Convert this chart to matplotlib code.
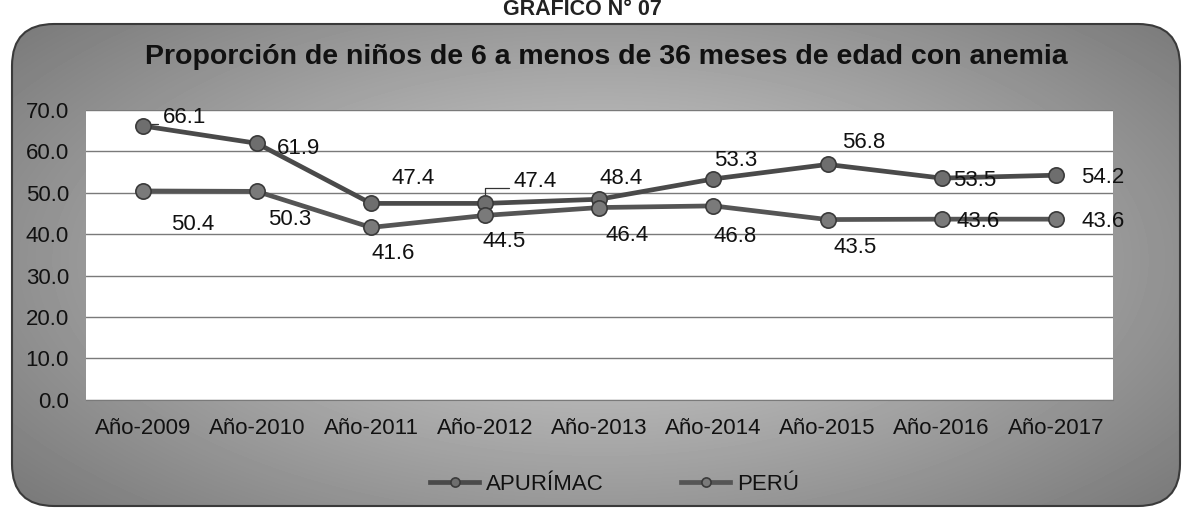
import numpy as np
import matplotlib
matplotlib.use("Agg")
import matplotlib.pyplot as plt
from matplotlib.patches import FancyBboxPatch

plt.rcParams["font.family"] = ["Liberation Sans", "DejaVu Sans"]

years = ["Año-2009", "Año-2010", "Año-2011", "Año-2012", "Año-2013",
         "Año-2014", "Año-2015", "Año-2016", "Año-2017"]
apurimac = [66.1, 61.9, 47.4, 47.4, 48.4, 53.3, 56.8, 53.5, 54.2]
peru = [50.4, 50.3, 41.6, 44.5, 46.4, 46.8, 43.5, 43.6, 43.6]
yticks = [0, 10, 20, 30, 40, 50, 60, 70]

# label offsets (points) for each data label
apu_off = [(30, 6), (30, -4), (30, 18), (36, 16), (16, 15), (16, 13), (26, 16), (24, -2), (34, -2)]
per_off = [(36, -24), (24, -20), (16, -19), (14, -19), (20, -20), (16, -22), (20, -20), (26, -2), (34, -2)]
FS = 16

fig = plt.figure(figsize=(11.89, 5.2), dpi=100)
fig.patch.set_facecolor("white")

# gray rounded panel with a soft gradient
bg = fig.add_axes([0, 0, 1, 1], zorder=0)
bg.set_xlim(0, 1189); bg.set_ylim(520, 0); bg.axis("off")
box = FancyBboxPatch((12, 24), 1168, 482, boxstyle="round,pad=0,rounding_size=42",
                     facecolor="none", edgecolor="#3a3a3a", lw=1.5, zorder=3)
bg.add_patch(box)
yy, xx = np.mgrid[0:520, 0:1189]
d = np.sqrt(((xx - 600) / 680.0) ** 2 + ((yy - 260) / 320.0) ** 2)
grad = 0.84 - 0.32 * d
im = bg.imshow(grad, cmap="gray", vmin=0, vmax=1, extent=(0, 1189, 520, 0), zorder=1)
im.set_clip_path(box)

fig.text(0.49, 0.982, "GRÁFICO N° 07", ha="center", va="center",
         fontsize=15.5, fontweight="bold", color="#222222")
fig.text(0.51, 0.89, "Proporción de niños de 6 a menos de 36 meses de edad con anemia",
         ha="center", va="center", fontsize=20.5, fontweight="bold", color="#111111")

ax = fig.add_axes([0.072, 0.231, 0.864, 0.558], zorder=2)
ax.set_facecolor("white")
x = np.arange(len(years))
ax.set_xlim(-0.5, len(years) - 0.5)
ax.set_ylim(0, 70)
ax.set_yticks(yticks)
ax.set_yticklabels([f"{v:.1f}" for v in yticks], fontsize=FS, color="#111111")
ax.set_xticks(x)
ax.set_xticklabels(years, fontsize=FS, color="#111111")
ax.tick_params(axis="x", length=0, pad=13)
ax.tick_params(axis="y", length=0, pad=12)
ax.grid(axis="y", color="#7a7a7a", lw=1.0)
ax.set_axisbelow(True)
for s in ax.spines.values():
    s.set_visible(False)
ax.spines["bottom"].set_visible(True)
ax.spines["bottom"].set_color("#7a7a7a")

ax.plot(x, apurimac, color="#4a4a4a", lw=3.4, marker="o", ms=11,
        mfc="#6e6e6e", mec="#3a3a3a", mew=1.2, label="APURÍMAC", zorder=4)
ax.plot(x, peru, color="#555555", lw=3.4, marker="o", ms=11,
        mfc="#7a7a7a", mec="#3a3a3a", mew=1.2, label="PERÚ", zorder=4)

for i, v in enumerate(apurimac):
    ax.annotate(f"{v:.1f}", (x[i], v), xytext=apu_off[i], textcoords="offset points",
                ha="center", va="center", fontsize=FS, color="#111111", zorder=5)
for i, v in enumerate(peru):
    ax.annotate(f"{v:.1f}", (x[i], v), xytext=per_off[i], textcoords="offset points",
                ha="center", va="center", fontsize=FS, color="#111111", zorder=5)

# leader lines
for i in [0, 3]:
    dx, dy = apu_off[i]
    ax.annotate("", (x[i], apurimac[i]), xytext=(dx - 19, dy - 5), textcoords="offset points",
                arrowprops=dict(arrowstyle="-", color="#333333", lw=0.9,
                                connectionstyle="angle,angleA=0,angleB=90,rad=0",
                                shrinkA=0, shrinkB=6))

leg = fig.legend(loc="center", bbox_to_anchor=(0.517, 0.068), ncol=2, frameon=False,
                 fontsize=FS, handlelength=2.2, columnspacing=3.5, markerscale=0.6,
                 handletextpad=0.3)
for t in leg.get_texts():
    t.set_color("#111111")

fig.savefig("out.png", dpi=100)
